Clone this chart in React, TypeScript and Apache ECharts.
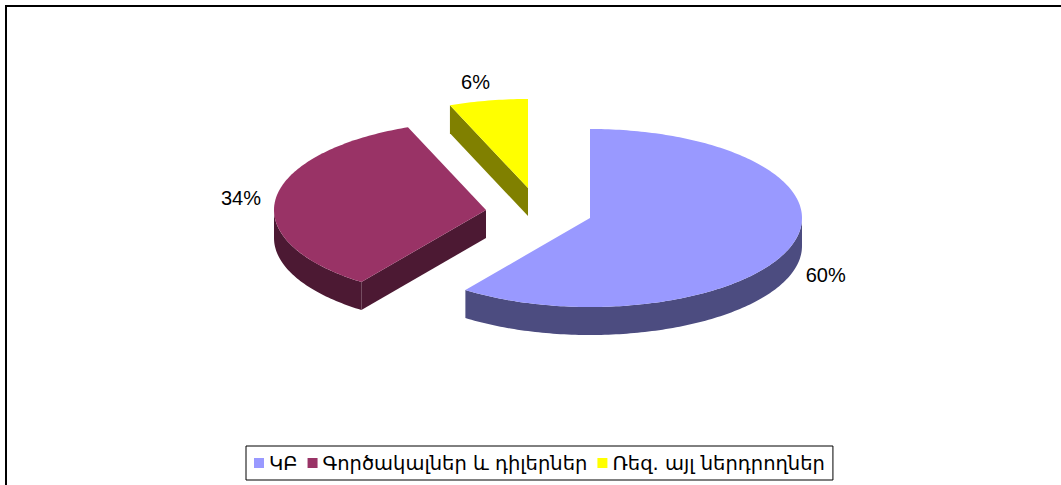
import React, { useEffect, useRef } from "react";
import * as echarts from "echarts";

const categories = ["ԿԲ", "Գործակալներ և դիլերներ", "Ռեզ. այլ ներդրողներ"];
const values = [60, 34, 6];

// style / layout (not data)
const topColors = ["#9999FF", "#993366", "#FFFF00"];
const sideColors = ["#4C4C80", "#4C1933", "#808000"];
const CX = 590, CY = 218, RX = 212, RY = 89, DEPTH = 28;
const explode = [[0, 0], [-104, -8], [-62, -30]];
const FONT = "'Liberation Sans', Arial, sans-serif";
const LEGEND_FONT = "'DejaVu Sans', 'Noto Sans', sans-serif";

const rad = (d: number) => (d * Math.PI) / 180;

function pt(cx: number, cy: number, deg: number, k = 1, dy = 0): number[] {
  return [cx + RX * k * Math.sin(rad(deg)), cy - RY * k * Math.cos(rad(deg)) + dy];
}

function arc(cx: number, cy: number, a: number, b: number, dy = 0): number[][] {
  const pts: number[][] = [];
  const n = Math.max(2, Math.ceil(Math.abs(b - a)));
  for (let i = 0; i <= n; i++) pts.push(pt(cx, cy, a + ((b - a) * i) / n, 1, dy));
  return pts;
}

function makeRender(idx: number) {
  return function (params: any, api: any) {
    const total = values.reduce((s, v) => s + v, 0);
    let start = 0;
    for (let i = 0; i < idx; i++) start += (values[i] / total) * 360;
    const v = api.value(0);
    const end = start + (v / total) * 360;
    const cx = CX + explode[idx][0];
    const cy = CY + explode[idx][1];
    const children: any[] = [];
    const apex = [cx, cy];
    const apexD = [cx, cy + DEPTH];
    const side = sideColors[idx];
    if (Math.sin(rad(start)) < -1e-6) {
      const p = pt(cx, cy, start);
      children.push({
        type: "polygon",
        shape: { points: [apex, p, [p[0], p[1] + DEPTH], apexD] },
        style: { fill: side },
      });
    }
    if (Math.sin(rad(end)) > 1e-6) {
      const p = pt(cx, cy, end);
      children.push({
        type: "polygon",
        shape: { points: [apex, p, [p[0], p[1] + DEPTH], apexD] },
        style: { fill: side },
      });
    }
    const lo = Math.max(start, 90), hi = Math.min(end, 270);
    if (lo < hi) {
      const topArc = arc(cx, cy, lo, hi);
      const botArc = arc(cx, cy, hi, lo, DEPTH);
      children.push({
        type: "polygon",
        shape: { points: topArc.concat(botArc) },
        style: { fill: side },
      });
    }
    children.push({
      type: "polygon",
      shape: { points: [apex].concat(arc(cx, cy, start, end)) },
      style: { fill: topColors[idx] },
    });
    const mid = (start + end) / 2;
    const s = Math.sin(rad(mid));
    const c = Math.cos(rad(mid));
    const lp = pt(cx, cy, mid, 1.07, c < 0 ? DEPTH : 0);
    const pct = Math.round((v / total) * 100) + "%";
    let align = s > 0 ? "left" : "right";
    let vAlign = "middle";
    const nearV = Math.abs(s) < 0.35;
    if (nearV) {
      align = "center";
      vAlign = c > 0 ? "bottom" : "top";
    }
    children.push({
      type: "text",
      x: nearV ? lp[0] - 10 : lp[0],
      y: nearV ? lp[1] - 2 : lp[1],
      style: {
        text: pct,
        fill: "#000",
        fontSize: 20,
        fontFamily: FONT,
        align,
        verticalAlign: vAlign,
      },
    });
    return { type: "group", children };
  };
}

export default function App() {
  const ref = useRef<HTMLDivElement>(null);
  useEffect(() => {
    document.body.style.margin = "0";
    const chart = echarts.init(ref.current!, null, { renderer: "svg" });
    chart.setOption({
      animation: false,
      backgroundColor: "#fff",
      legend: {
        left: 246,
        top: 446,
        icon: "rect",
        itemWidth: 10,
        itemHeight: 10,
        itemGap: 10,
        padding: [7, 8, 7, 8],
        borderColor: "#000",
        borderWidth: 1,
        data: categories,
        textStyle: { fontSize: 19.5, fontFamily: LEGEND_FONT, color: "#000", padding: [0, 0, 0, 0] },
        selectedMode: false,
      },
      graphic: [
        {
          type: "rect",
          shape: { x: 6, y: 6, width: 1200, height: 700 },
          style: { fill: "none", stroke: "#000", lineWidth: 2 },
          silent: true,
        },
      ],
      series: categories.map((name, i) => ({
        type: "custom",
        name,
        coordinateSystem: "none",
        z: 10 - i,
        itemStyle: { color: topColors[i] },
        data: [[values[i]]],
        renderItem: makeRender(i),
      })),
    });
    return () => chart.dispose();
  }, []);
  return <div ref={ref} style={{ width: 1061, height: 485 }} />;
}
